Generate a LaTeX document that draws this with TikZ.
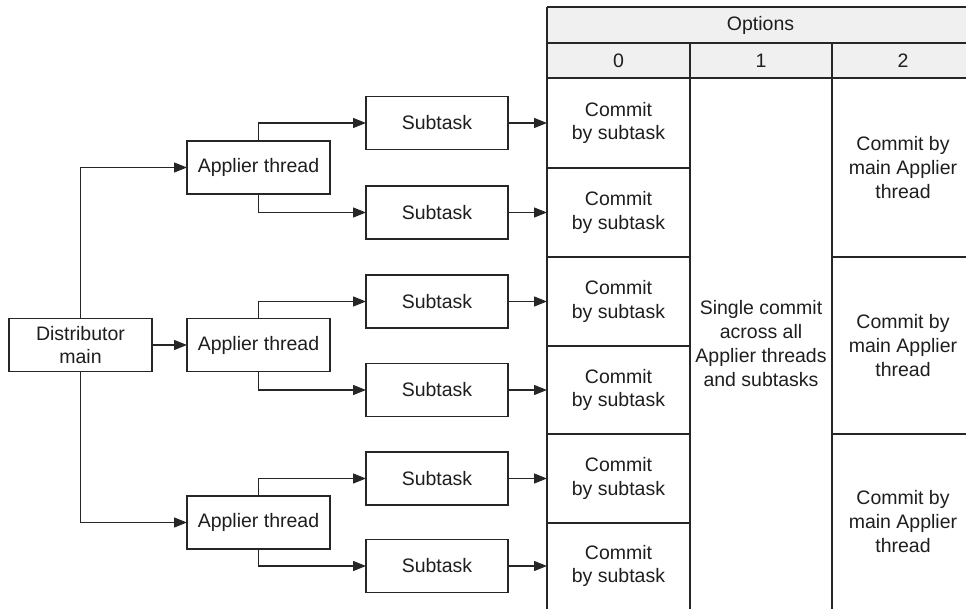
\documentclass[tikz,border=0pt]{standalone}
\usepackage{fontspec}
\setmainfont{Liberation Sans}
\usetikzlibrary{arrows.meta}
\definecolor{linec}{HTML}{262626}
\definecolor{textc}{HTML}{1E1E1E}
\definecolor{headc}{HTML}{F0F0F0}
\begin{document}
\begin{tikzpicture}[x=1pt,y=-1pt,line width=1.2pt,
  every node/.style={font=\fontsize{19.5}{23.7}\selectfont, text=textc, inner sep=0pt, outer sep=0pt, align=center},
  box/.style={draw=linec, fill=white, minimum width=143, minimum height=53},
  subbox/.style={draw=linec, fill=white, minimum width=142, minimum height=53},
  cellzero/.style={minimum width=143, minimum height=88.5},
  arr/.style={draw=linec, -{Triangle[length=13pt,width=10pt]}},
  grid/.style={draw=linec}]
\useasboundingbox (0,0) rectangle (966,609);

% table header fill and grid
\fill[headc] (547,7) rectangle (966,78);
\draw[grid] (547,7) -- (966,7);
\draw[grid] (547,43) -- (966,43);
\draw[grid] (547,78) -- (966,78);
\draw[grid] (547,7) -- (547,609);
\draw[grid] (690,43) -- (690,609);
\draw[grid] (832,43) -- (832,609);
\foreach \yy in {168,257,346,434,523} \draw[grid] (547,\yy) -- (690,\yy);
\foreach \yy in {257,434} \draw[grid] (832,\yy) -- (966,\yy);

% header texts
\node (opt) at (760.5,25) {Options};
\node (h0) at (618.5,60.5) {0};
\node (h1) at (761,60.5) {1};
\node (h2) at (903,60.5) {2};

% column 0 cells
\node[cellzero] (c1) at (618.5,123) {Commit\\by subtask};
\node[cellzero] (c2) at (618.5,212.5) {Commit\\by subtask};
\node[cellzero] (c3) at (618.5,301.5) {Commit\\by subtask};
\node[cellzero] (c4) at (618.5,390) {Commit\\by subtask};
\node[cellzero] (c5) at (618.5,478.5) {Commit\\by subtask};
\node[cellzero] (c6) at (618.5,566) {Commit\\by subtask};

% column 1
\node (single) at (761,343.5) {Single commit\\across all\\Applier threads\\and subtasks};

% column 2
\node (m1) at (903,167.5) {Commit by\\main Applier\\thread};
\node (m2) at (903,345.5) {Commit by\\main Applier\\thread};
\node (m3) at (903,521.5) {Commit by\\main Applier\\thread};

% left diagram
\node[box] (dist) at (80.5,345) {Distributor\\main};
\node[box] (a1) at (258.5,167.5) {Applier thread};
\node[box] (a2) at (258.5,345) {Applier thread};
\node[box] (a3) at (258.5,522.5) {Applier thread};

\node[subbox] (s1) at (437,123) {Subtask};
\node[subbox] (s2) at (437,212.5) {Subtask};
\node[subbox] (s3) at (437,301.5) {Subtask};
\node[subbox] (s4) at (437,390) {Subtask};
\node[subbox] (s5) at (437,478.5) {Subtask};
\node[subbox] (s6) at (437,566) {Subtask};

\draw[arr] (dist.north) |- (a1.west);
\draw[arr] (dist.east) -- (a2.west);
\draw[arr] (dist.south) |- (a3.west);

\draw[arr] (a1.north) |- (s1.west);
\draw[arr] (a1.south) |- (s2.west);
\draw[arr] (a2.north) |- (s3.west);
\draw[arr] (a2.south) |- (s4.west);
\draw[arr] (a3.north) |- (s5.west);
\draw[arr] (a3.south) |- (s6.west);

\draw[arr] (s1.east) -- (c1.west);
\draw[arr] (s2.east) -- (c2.west);
\draw[arr] (s3.east) -- (c3.west);
\draw[arr] (s4.east) -- (c4.west);
\draw[arr] (s5.east) -- (c5.west);
\draw[arr] (s6.east) -- (c6.west);
\end{tikzpicture}
\end{document}
